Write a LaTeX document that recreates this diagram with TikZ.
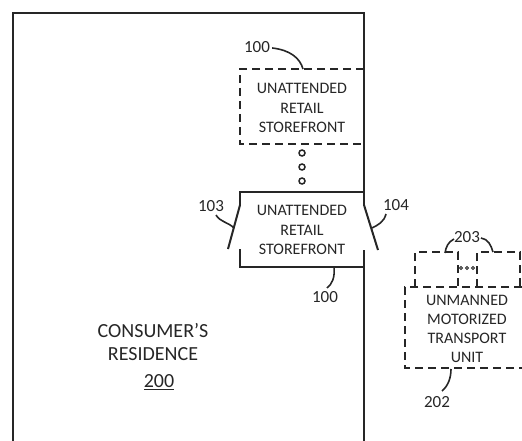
\documentclass[tikz,border=0pt]{standalone}
\usepackage{fontspec}
\setmainfont{Carlito}
\begin{document}
\begin{tikzpicture}[x=1pt,y=-1pt,
  wall/.style={line width=2pt,draw=black!85},
  dbox/.style={line width=2pt,draw=black!85,dash pattern=on 8pt off 5pt},
  lead/.style={line width=1.6pt,draw=black!85},
  lbl/.style={font=\fontsize{17}{20}\selectfont,text=black!85,inner sep=0pt},
  boxtxt/.style={font=\fontsize{16}{19.5}\selectfont,text=black!85,align=center,inner sep=0pt},
  dot/.style={circle,draw=black!85,line width=1.5pt,minimum size=6pt,inner sep=0pt}]
\useasboundingbox (0,0) rectangle (522,441);
% residence walls
\coordinate (wbl) at (13,441);
\coordinate (wtl) at (13,13);
\coordinate (wtr) at (364,13);
\coordinate (hr) at (364,205);
\coordinate (wr2) at (364,250);
\coordinate (wbr) at (364,441);
\draw[wall] (wbl) -- (wtl) -- (wtr) -- (hr);
\draw[wall] (wr2) -- (wbr);
% top dashed storefront
\draw[dbox] (364,69) -- (240,69) -- (240,144) -- (364,144);
\node[boxtxt] (s1) at (302,108) {UNATTENDED\\RETAIL\\STOREFRONT};
\node[lbl] (l100a) at (257,47) {100};
\coordinate (s1top) at (303,69);
\draw[lead] (l100a.east) ++(2,1) .. controls (290,50) and (300,58) .. (s1top);
% dots
\node[dot] (d1) at (302,153) {};
\node[dot] (d2) at (302,167) {};
\node[dot] (d3) at (302,181) {};
% lower storefront
\coordinate (hl) at (240,205);
\coordinate (dl) at (228,249);
\coordinate (dr) at (378,250);
\draw[wall] (364,192) -- (240,192) -- (hl);
\draw[wall] (hl) -- (dl);
\draw[wall] (240,249) -- (240,267) -- (364,267);
\draw[wall] (hr) -- (dr);
\node[boxtxt] (s2) at (302,230) {UNATTENDED\\RETAIL\\STOREFRONT};
\node[lbl] (l103) at (211,206) {103};
\node[lbl] (l104) at (396,205) {104};
\node[lbl] (l100b) at (325,297) {100};
\draw[lead] (216,215) .. controls (220,222) and (228,222) .. (234,228);
\draw[lead] (386,214) .. controls (384,222) and (378,225) .. (372,228);
\draw[lead] (334,267) .. controls (335,278) and (332,284) .. (327,288);
% consumer's residence
\node[font=\fontsize{20}{23}\selectfont,text=black!85,align=center,inner sep=0pt] (res) at (153,342) {CONSUMER’S\\RESIDENCE};
\node[font=\fontsize{20}{23}\selectfont,text=black!85,inner sep=0pt] (n200) at (159,382) {\underline{200}};
% transport unit
\draw[dbox] (522,287) -- (405,287) -- (405,368) -- (522,368);
\draw[dbox] (415,287) -- (415,252) -- (458,252) -- (458,287);
\draw[dbox] (477,287) -- (477,252) -- (520,252) -- (520,287);
\foreach \i/\xx in {a/461,b/467,c/473} \node[circle,draw=black!85,line width=0.8pt,minimum size=3pt,inner sep=0pt] (m\i) at (\xx,268) {};
\node[boxtxt,font=\fontsize{16}{19}\selectfont] (tu) at (467,329) {UNMANNED\\MOTORIZED\\TRANSPORT\\UNIT};
\node[lbl] (l203) at (467,237) {203};
\draw[lead] (454,239) .. controls (448,242) and (446,247) .. (445,253);
\draw[lead] (481,238) .. controls (488,239) and (491,245) .. (493,252);
\node[lbl] (l202) at (437,402) {202};
\draw[lead] (451,369) .. controls (451,378) and (448,386) .. (442,391);
\end{tikzpicture}
\end{document}
